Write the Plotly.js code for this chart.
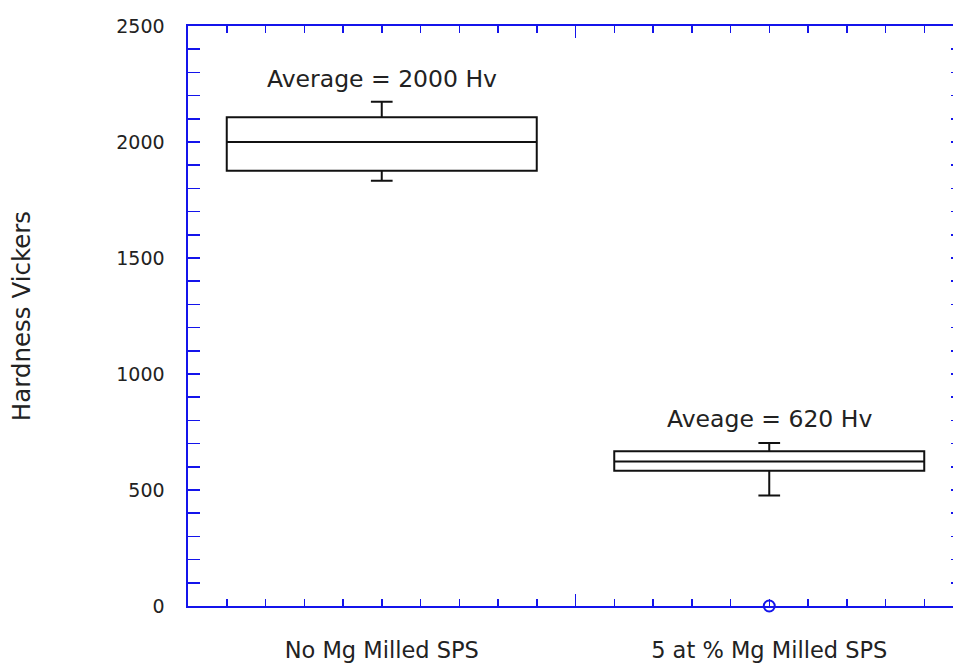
<!DOCTYPE html>
<html>
<head>
<meta charset="utf-8">
<script src="https://cdn.plot.ly/plotly-3.0.1.min.js"></script>
<style>
html, body { margin: 0; padding: 0; overflow: hidden; background: #fff; }
#chart { width: 980px; height: 665px; }
</style>
</head>
<body>
<div id="chart"></div>
<script>
// Data
var categories = ["No Mg Milled SPS", "5 at % Mg Milled SPS"];
var positions = [0, 1];
var q1 = [1876, 583];
var medians = [2000, 623];
var q3 = [2107, 667];
var lowerWhisker = [1833, 476];
var upperWhisker = [2173, 703];
var outlierX = [1];
var outlierY = [0];
var averageLabels = ["Average = 2000 Hv", "Aveage = 620 Hv"];
var yTicks = [0, 500, 1000, 1500, 2000, 2500];

var BLUE = "rgb(20,20,235)";
var TXT = "#222222";
var FONT = "DejaVu Sans, Arial, sans-serif";

var traces = [
  {
    type: "box", x: positions, q1: q1, median: medians, q3: q3,
    lowerfence: lowerWhisker, upperfence: upperWhisker,
    width: 0.8, whiskerwidth: 0.07, boxpoints: false,
    fillcolor: "rgba(255,255,255,0)", line: { color: "#111111", width: 2 },
    hoverinfo: "skip", showlegend: false
  },
  {
    type: "scatter", mode: "markers", x: outlierX, y: outlierY, xaxis: "x2",
    marker: { symbol: "circle-open", size: 11, color: BLUE, line: { width: 2, color: BLUE } },
    cliponaxis: false, hoverinfo: "skip", showlegend: false
  }
];

var layout = {
  width: 980, height: 665,
  margin: { l: 188, r: 17, t: 26, b: 59 },
  paper_bgcolor: "#ffffff", plot_bgcolor: "#ffffff",
  font: { family: FONT, color: TXT },
  xaxis: {
    range: [-0.5, 1.5], tickmode: "array", tickvals: [-0.5, 0.5, 1.5],
    ticks: "inside", ticklen: 12, tickwidth: 1.5, tickcolor: BLUE,
    showticklabels: false, showline: true, linecolor: BLUE, linewidth: 1.6,
    mirror: "allticks", showgrid: false, zeroline: false,
    minor: { tick0: -0.5, dtick: 0.1, ticks: "inside", ticklen: 7, tickwidth: 1.5, tickcolor: BLUE, showgrid: false }
  },
  xaxis2: {
    overlaying: "x", anchor: "y", side: "bottom", range: [-0.5, 1.5],
    tickmode: "array", tickvals: positions, ticktext: categories,
    ticks: "", showline: false, showgrid: false, zeroline: false,
    ticklabelstandoff: 28, tickfont: { family: FONT, size: 22.5, color: TXT }
  },
  yaxis: {
    range: [0, 2500], tickmode: "array", tickvals: yTicks,
    ticks: "inside", ticklen: 12, tickwidth: 1.5, tickcolor: BLUE,
    showline: true, linecolor: BLUE, linewidth: 1.6, mirror: "allticks",
    showgrid: false, zeroline: false, ticklabelstandoff: 18,
    tickfont: { family: FONT, size: 19, color: TXT },
    minor: { dtick: 100, ticks: "inside", ticklen: 7, tickwidth: 1.5, tickcolor: BLUE, showgrid: false },
    title: { text: "Hardness Vickers", font: { family: FONT, size: 24.5, color: TXT }, standoff: 78 }
  },
  annotations: [
    { x: positions[0], y: 2270, xref: "x", yref: "y", text: averageLabels[0], showarrow: false,
      xanchor: "center", yanchor: "middle", font: { family: FONT, size: 23.5, color: TXT } },
    { x: positions[1], y: 808, xref: "x", yref: "y", text: averageLabels[1], showarrow: false,
      xanchor: "center", yanchor: "middle", font: { family: FONT, size: 23.5, color: TXT } }
  ]
};

Plotly.newPlot("chart", traces, layout, { displayModeBar: false, staticPlot: true });
</script>
</body>
</html>
